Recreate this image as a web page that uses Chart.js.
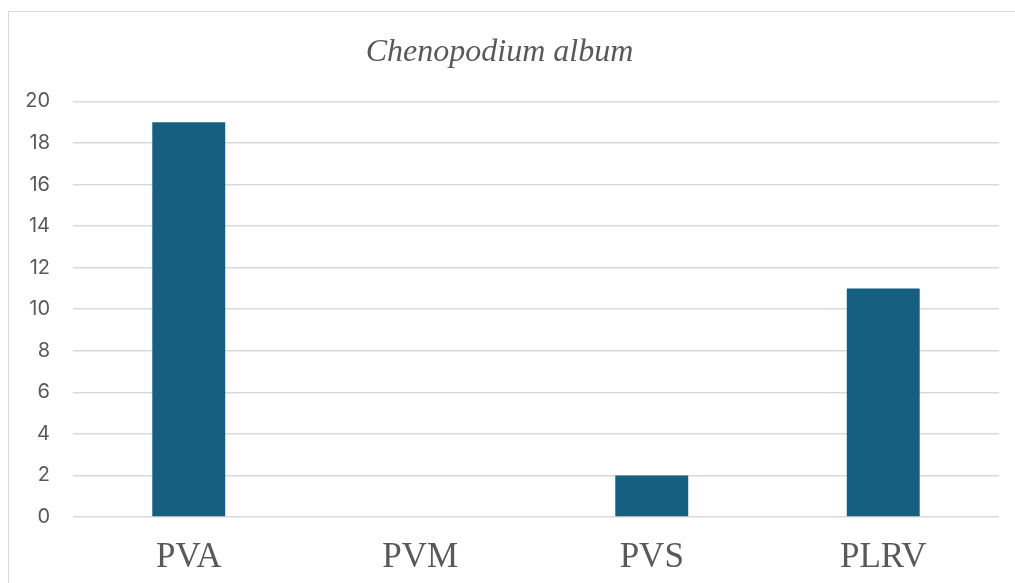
<!DOCTYPE html>
<html lang="en">

<head>
    <title>Chenopodium album</title>
    <script src="https://cdn.jsdelivr.net/npm/chart.js"></script>
    <style>
        body { margin: 0; background: #fff; }
        #frame {
            position: absolute; left: 8px; top: 11px;
            width: 1020px; height: 590px;
            border: 1.5px solid #d9d9d9;
        }
        #wrap { position: absolute; left: 0; top: 0; width: 1015px; height: 583px; }
    </style>
</head>

<body>
    <div id="frame"></div>
    <div id="wrap"><canvas id="chart" width="1015" height="583"></canvas></div>

    <script>
        // Chart data
        const categories = ['PVA', 'PVM', 'PVS', 'PLRV'];
        const values = [19, 0, 2, 11];
        const yTicks = [0, 2, 4, 6, 8, 10, 12, 14, 16, 18, 20];

        const ctx = document.getElementById('chart').getContext('2d');

        const chart = new Chart(ctx, {
            type: 'bar',
            data: {
                labels: categories,
                datasets: [{
                    label: 'Chenopodium album',
                    data: values,
                    backgroundColor: '#175f80',
                    categoryPercentage: 1,
                    barPercentage: 0.315
                }]
            },
            options: {
                animation: false,
                responsive: false,
                layout: { padding: { top: 0, right: 16, bottom: 0, left: 0 } },
                plugins: {
                    legend: { display: false },
                    tooltip: { enabled: false },
                    title: {
                        display: true,
                        text: 'Chenopodium album',
                        color: '#595959',
                        font: { family: '"Liberation Serif", "DejaVu Serif", serif', size: 32, style: 'italic', weight: 'normal' },
                        padding: { top: 33, bottom: 30 }
                    }
                },
                scales: {
                    x: {
                        grid: { display: false, drawTicks: false },
                        border: { display: false },
                        afterFit: (scale) => { scale.height = 66; },
                        ticks: {
                            color: '#595959',
                            padding: 20,
                            font: { family: '"Liberation Serif", "DejaVu Serif", serif', size: 35 }
                        }
                    },
                    y: {
                        min: 0,
                        max: 20,
                        afterBuildTicks: (scale) => {
                            scale.ticks = yTicks.map(v => ({ value: v }));
                        },
                        afterFit: (scale) => { scale.width = 73; },
                        grid: { color: '#d9d9d9', lineWidth: 1.5, drawTicks: false },
                        border: { display: false },
                        ticks: {
                            color: '#595959',
                            padding: 23,
                            font: { family: 'Inter, "Open Sans", sans-serif', size: 20 }
                        }
                    }
                }
            }
        });
    </script>
</body>

</html>
